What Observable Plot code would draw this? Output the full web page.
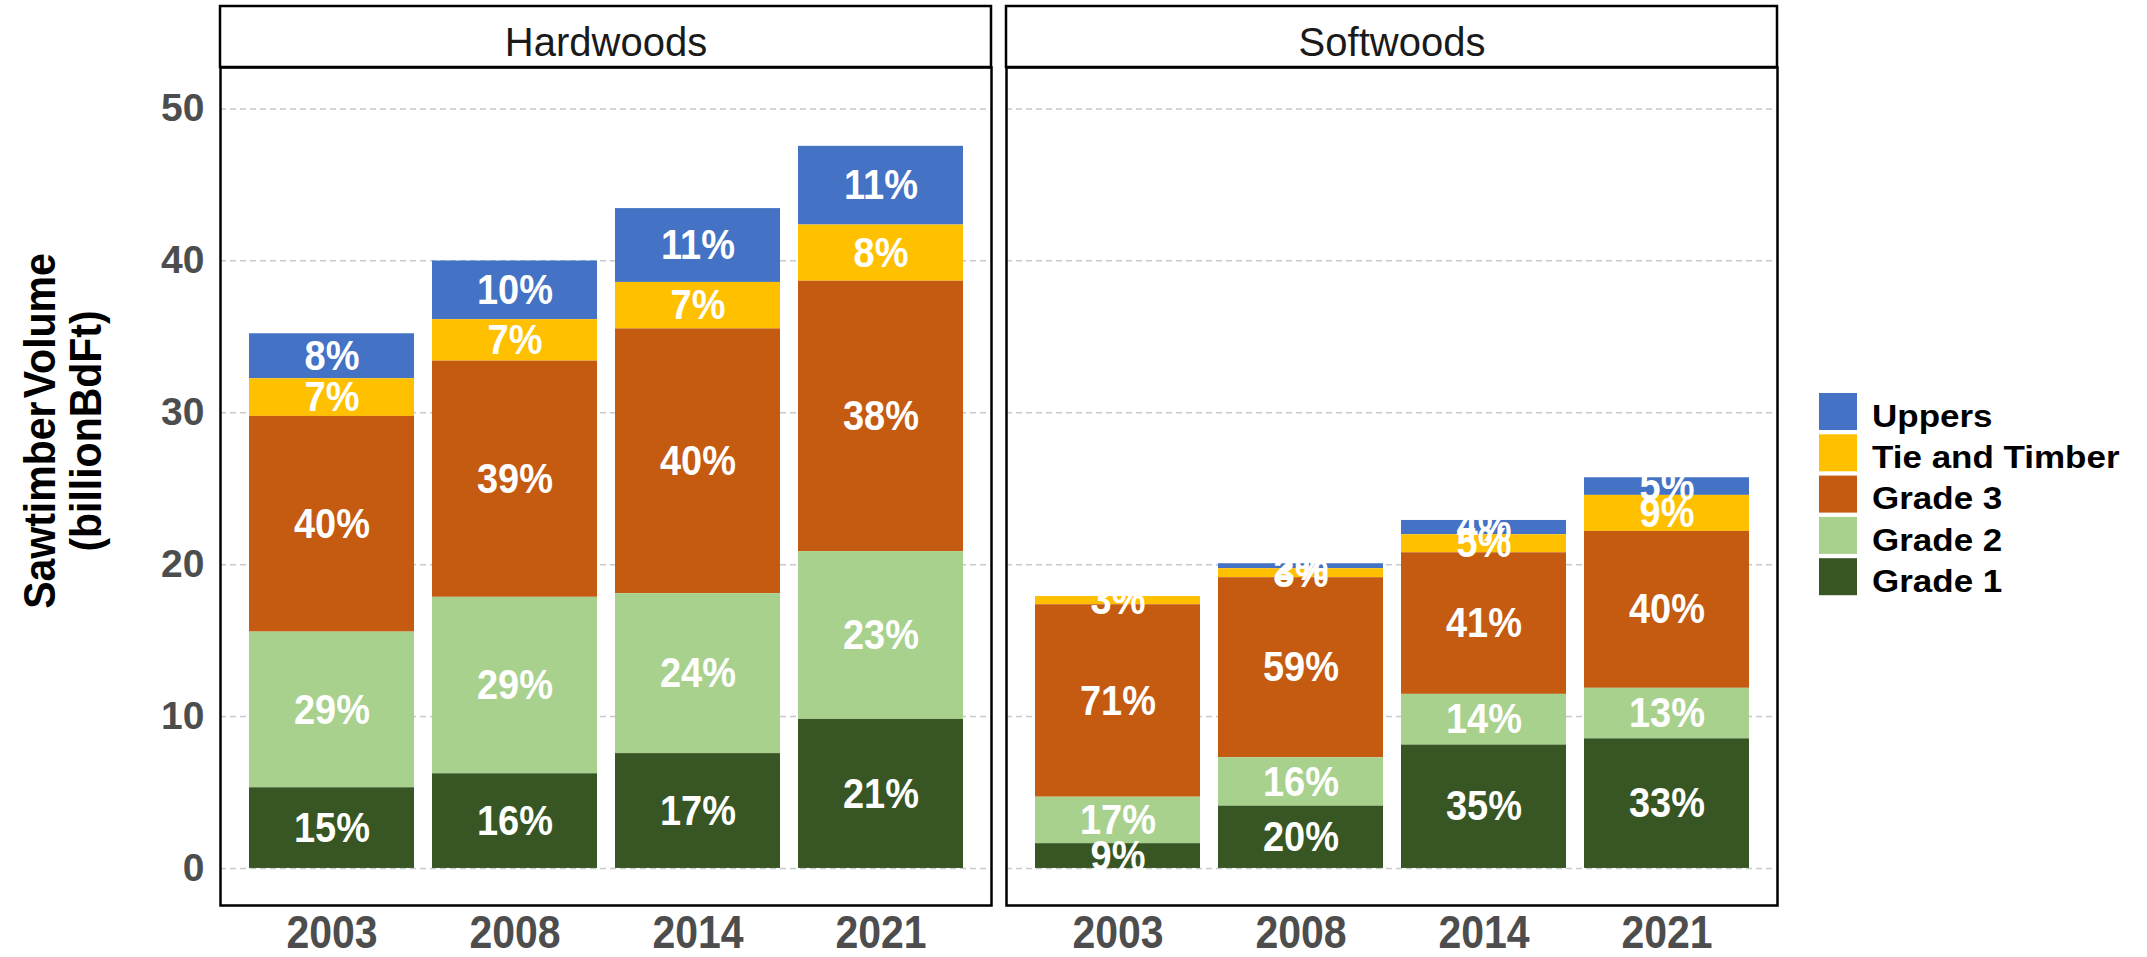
<!DOCTYPE html>
<html>
<head>
<meta charset="utf-8">
<script src="https://cdn.jsdelivr.net/npm/d3@7"></script>
<script src="https://cdn.jsdelivr.net/npm/@observablehq/plot@0.6"></script>
<style>
  html, body { margin: 0; padding: 0; background: #fff; }
</style>
</head>
<body>
<div id="chart"></div>
<script>
// ---------- data ----------
const panels = ["Hardwoods", "Softwoods"];
const years = ["2003", "2008", "2014", "2021"];
const grades = ["Uppers", "Tie and Timber", "Grade 3", "Grade 2", "Grade 1"];
const gradeColors = ["#4472C4", "#FFC000", "#C55A11", "#A9D18E", "#375623"];
const stackOrder = ["Grade 1", "Grade 2", "Grade 3", "Tie and Timber", "Uppers"];
const yTicks = [0, 10, 20, 30, 40, 50];

// Sawtimber volume (billion BdFt); rows follow `grades`, columns follow `years`
const hardwoodsVolume = [
  [2.96, 3.86, 4.86, 5.18],
  [2.48, 2.73, 3.06, 3.70],
  [14.20, 15.55, 17.43, 17.80],
  [10.25, 11.62, 10.53, 11.05],
  [5.31, 6.23, 7.56, 9.81]
];
const softwoodsVolume = [
  [0, 0.33, 0.94, 1.16],
  [0.54, 0.59, 1.19, 2.37],
  [12.67, 11.85, 9.32, 10.33],
  [3.06, 3.19, 3.34, 3.33],
  [1.63, 4.10, 8.12, 8.53]
];
// percentage labels as printed on the bars
const hardwoodsPct = [
  [8, 10, 11, 11],
  [7, 7, 7, 8],
  [40, 39, 40, 38],
  [29, 29, 24, 23],
  [15, 16, 17, 21]
];
const softwoodsPct = [
  [0, 2, 4, 5],
  [3, 3, 5, 9],
  [71, 59, 41, 40],
  [17, 16, 14, 13],
  [9, 20, 35, 33]
];

const yTitle1 = "Sawtimber Volume";
const yTitle2 = "(billionBdFt)";

// ---------- build table ----------
const data = [];
[[panels[0], hardwoodsVolume, hardwoodsPct], [panels[1], softwoodsVolume, softwoodsPct]].forEach(([panel, vol, pct]) => {
  grades.forEach((grade, gi) => {
    years.forEach((year, yi) => {
      if (vol[gi][yi] > 0) data.push({panel, year, grade, value: vol[gi][yi], label: pct[gi][yi] + "%"});
    });
  });
});

const FONT = "'Liberation Sans', Arial, Helvetica, sans-serif";

const chart = Plot.plot({
  width: 2147,
  height: 957,
  marginLeft: 219,
  marginRight: 369,
  marginTop: 67,
  marginBottom: 52,
  style: {fontFamily: FONT, background: "white"},
  fx: {domain: panels, paddingInner: 0.019, paddingOuter: 0, axis: null, label: null},
  x: {domain: years, paddingInner: 0.1, paddingOuter: 0.15, axis: null, label: null},
  y: {domain: [-2.44, 52.73], axis: null, label: null},
  color: {domain: grades, range: gradeColors},
  marks: [
    Plot.gridY(yTicks, {stroke: "#c8c8c8", strokeOpacity: 1, strokeWidth: 1.5, strokeDasharray: "6,4"}),
    Plot.barY(data, {fx: "panel", x: "year", y: "value", z: "grade", fill: "grade", order: stackOrder}),
    Plot.text(data, Plot.stackY({
      fx: "panel", x: "year", y: "value", z: "grade", order: stackOrder,
      text: "label", fill: "white", fontSize: 38, fontWeight: "bold"
    })),
    Plot.axisY(yTicks, {tickSize: 0, tickPadding: 16, fontSize: 39, fontWeight: "bold", fill: "#4d4d4d", label: null}),
    Plot.axisX({tickSize: 0, tickPadding: 9, fontSize: 41, fontWeight: "bold", fill: "#4d4d4d", label: null}),
    Plot.axisFx({anchor: "top", tickSize: 0, tickPadding: 12, fontSize: 40, fill: "#1a1a1a", label: null}),
    Plot.frame({stroke: "black", strokeWidth: 2.5})
  ]
});

document.getElementById("chart").appendChild(chart);
const svgNode = chart.tagName.toLowerCase() === "svg" ? chart : chart.querySelector("svg");
const svg = d3.select(svgNode);

// stretch helper (text glyphs in the reference are taller than wide)
function stretch(sel, sx, sy) {
  sel.each(function () {
    const t = this.getAttribute("transform");
    if (t) {
      this.setAttribute("transform", `${t} scale(${sx},${sy})`);
    } else {
      const xa = this.getAttribute("x"), ya = this.getAttribute("y");
      const x = xa && !/em$/.test(xa) ? +xa : 0;
      const y = ya && !/em$/.test(ya) ? +ya : 0;
      if (xa && !/em$/.test(xa)) this.removeAttribute("x");
      if (ya && !/em$/.test(ya)) this.removeAttribute("y");
      this.setAttribute("transform", `translate(${x},${y}) scale(${sx},${sy})`);
    }
  });
}
stretch(svg.selectAll('[aria-label="text"] text'), 1, 1.12);
stretch(svg.selectAll('[aria-label="x-axis tick label"] text'), 1, 1.14);

// facet strips (boxes above each panel), positioned from the fx scale
const fxScale = chart.scale("fx");
const stripTop = 6;
const panelTop = 67;
const strips = svg.append("g");
panels.forEach((p) => {
  const x0 = fxScale.apply(p);
  strips.append("rect")
    .attr("x", x0).attr("y", stripTop)
    .attr("width", fxScale.bandwidth).attr("height", panelTop - stripTop)
    .attr("fill", "none").attr("stroke", "black").attr("stroke-width", 2.5);
});

// y-axis title (two lines, rotated)
const title = svg.append("text")
  .attr("transform", "translate(55,431) rotate(-90) scale(1,1.1)")
  .attr("text-anchor", "middle")
  .attr("font-family", FONT)
  .attr("font-weight", "bold")
  .attr("font-size", 41)
  .attr("fill", "#000")
  .style("word-spacing", "-8px");
title.append("tspan").attr("x", 0).attr("y", 0).text(yTitle1);
title.append("tspan").attr("x", 0).attr("y", 42).text(yTitle2);

// legend
const lg = svg.append("g").attr("font-family", FONT).attr("text-anchor", "start");
grades.forEach((g, i) => {
  const y0 = 393 + i * 41.3;
  lg.append("rect").attr("x", 1819).attr("y", y0).attr("width", 38).attr("height", 37).attr("fill", gradeColors[i]);
  lg.append("text")
    .attr("transform", `translate(1872,${y0 + 33.7}) scale(1,0.88)`)
    .attr("text-anchor", "start")
    .attr("font-size", 35).attr("font-weight", "bold").attr("fill", "#000")
    .text(g);
});
</script>
</body>
</html>
